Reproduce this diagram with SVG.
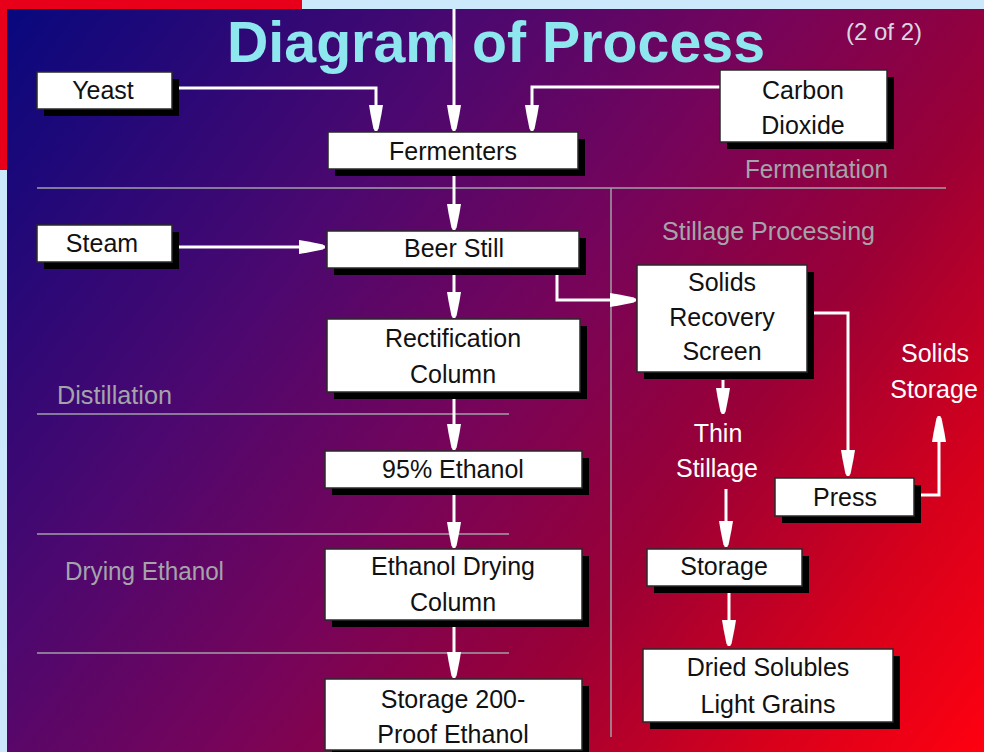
<svg xmlns="http://www.w3.org/2000/svg" width="984" height="752" viewBox="0 0 984 752">
<defs>
<linearGradient id="bg" gradientUnits="userSpaceOnUse" x1="7" y1="9" x2="984" y2="752">
<stop offset="0" stop-color="#08087e"/>
<stop offset="0.3" stop-color="#4a0870"/>
<stop offset="0.5" stop-color="#76045a"/>
<stop offset="0.68" stop-color="#9a0036"/>
<stop offset="0.85" stop-color="#d6001c"/>
<stop offset="1" stop-color="#ff0010"/>
</linearGradient>
<marker id="ah" viewBox="-28 -8 30 16" refX="0" refY="0" markerWidth="30" markerHeight="16" markerUnits="userSpaceOnUse" orient="auto">
<path d="M-26,-7 L-17,-5.5 L-2,-2.5 L0,0 L-2,2.5 L-17,5.5 L-26,7 Z" fill="#ffffff"/>
</marker>
<style>
.box{fill:#ffffff;stroke:#2a2a2a;stroke-width:1.5}
.sh{fill:#000000}
.t{font-family:"Liberation Sans",Arial,sans-serif;font-size:25px;fill:#111111;text-anchor:middle}
.w{font-family:"Liberation Sans",Arial,sans-serif;font-size:25px;fill:#ffffff;text-anchor:middle}
.g{font-family:"Liberation Sans",Arial,sans-serif;font-size:25px;fill:#a4a4aa}
.sep{stroke:#a0a0a6;stroke-width:1.5;fill:none}
.c{stroke:#ffffff;stroke-width:3;fill:none;marker-end:url(#ah)}
.cn{stroke:#ffffff;stroke-width:3;fill:none}
</style>
</defs>
<rect x="0" y="0" width="984" height="752" fill="#cce9fb"/>
<rect x="0" y="0" width="302" height="170" fill="#e8001a"/>
<rect x="7" y="9" width="977" height="743" fill="url(#bg)"/>

<g id="title">
<text x="227" y="62" font-family="Liberation Sans,Arial,sans-serif" font-weight="bold" font-size="58" fill="#8ee6ee" textLength="538" lengthAdjust="spacingAndGlyphs">Diagram of Process</text>
<text x="846" y="40" font-family="Liberation Sans,Arial,sans-serif" font-size="24" fill="#d8d8e2" textLength="76" lengthAdjust="spacingAndGlyphs">(2 of 2)</text>
</g>

<g id="separators">
<line class="sep" x1="37" y1="188" x2="946" y2="188"/>
<line class="sep" x1="611" y1="188" x2="611" y2="737"/>
<line class="sep" x1="37" y1="414" x2="509" y2="414"/>
<line class="sep" x1="37" y1="534" x2="509" y2="534"/>
<line class="sep" x1="37" y1="653" x2="509" y2="653"/>
</g>

<g id="section-labels">
<text class="g" x="745" y="178" textLength="143" lengthAdjust="spacingAndGlyphs">Fermentation</text>
<text class="g" x="662" y="240" textLength="213" lengthAdjust="spacingAndGlyphs">Stillage Processing</text>
<text class="g" x="57" y="404" textLength="115" lengthAdjust="spacingAndGlyphs">Distillation</text>
<text class="g" x="65" y="580" textLength="159" lengthAdjust="spacingAndGlyphs">Drying Ethanol</text>
</g>

<g id="connectors">
<path class="c" d="M454,9 V131"/>
<path class="c" d="M172,88 H376 V131"/>
<path class="c" d="M720,87 H532 V131"/>
<path class="c" d="M454,170 V230"/>
<path class="c" d="M172,247 H325"/>
<path class="c" d="M454,268 V318"/>
<path class="c" d="M557,268 V300 H636"/>
<path class="c" d="M454,392 V450"/>
<path class="c" d="M454,488 V548"/>
<path class="c" d="M454,620 V678"/>
<path class="c" d="M723,380 V414"/>
<path class="c" d="M726,489 V547"/>
<path class="c" d="M729,586 V646"/>
<path class="c" d="M807,313 H848 V476"/>
<path class="c" d="M914,495 H939 V416"/>
</g>

<g id="yeast">
<rect class="sh" x="44" y="79" width="135" height="37"/>
<rect class="box" x="37" y="72" width="135" height="37"/>
<text class="t" x="103" y="99">Yeast</text>
</g>
<g id="carbon-dioxide">
<rect class="sh" x="727" y="77" width="167" height="72"/>
<rect class="box" x="720" y="70" width="167" height="72"/>
<text class="t" x="803" y="99">Carbon</text>
<text class="t" x="803" y="134">Dioxide</text>
</g>
<g id="fermenters">
<rect class="sh" x="335" y="139" width="250" height="37"/>
<rect class="box" x="328" y="132" width="250" height="37"/>
<text class="t" x="453" y="160">Fermenters</text>
</g>
<g id="steam">
<rect class="sh" x="44" y="232" width="135" height="37"/>
<rect class="box" x="37" y="225" width="135" height="37"/>
<text class="t" x="102" y="252">Steam</text>
</g>
<g id="beer-still">
<rect class="sh" x="334" y="238" width="252" height="37"/>
<rect class="box" x="327" y="231" width="252" height="37"/>
<text class="t" x="454" y="257">Beer Still</text>
</g>
<g id="rectification-column">
<rect class="sh" x="334" y="326" width="253" height="73"/>
<rect class="box" x="327" y="319" width="253" height="73"/>
<text class="t" x="453" y="347">Rectification</text>
<text class="t" x="453" y="383">Column</text>
</g>
<g id="ethanol-95">
<rect class="sh" x="332" y="458" width="257" height="37"/>
<rect class="box" x="325" y="451" width="257" height="37"/>
<text class="t" x="453" y="478">95% Ethanol</text>
</g>
<g id="ethanol-drying-column">
<rect class="sh" x="332" y="556" width="257" height="71"/>
<rect class="box" x="325" y="549" width="257" height="71"/>
<text class="t" x="453" y="575">Ethanol Drying</text>
<text class="t" x="453" y="611">Column</text>
</g>
<g id="storage-200-proof">
<rect class="sh" x="332" y="686" width="257" height="71"/>
<rect class="box" x="325" y="679" width="257" height="71"/>
<text class="t" x="453" y="708">Storage 200-</text>
<text class="t" x="453" y="743">Proof Ethanol</text>
</g>
<g id="solids-recovery-screen">
<rect class="sh" x="644" y="272" width="170" height="107"/>
<rect class="box" x="637" y="265" width="170" height="107"/>
<text class="t" x="722" y="291">Solids</text>
<text class="t" x="722" y="326">Recovery</text>
<text class="t" x="722" y="360">Screen</text>
</g>
<g id="thin-stillage">
<text class="w" x="718" y="442">Thin</text>
<text class="w" x="717" y="477">Stillage</text>
</g>
<g id="press">
<rect class="sh" x="782" y="485" width="139" height="38"/>
<rect class="box" x="775" y="478" width="139" height="38"/>
<text class="t" x="845" y="506">Press</text>
</g>
<g id="solids-storage">
<text class="w" x="935" y="362">Solids</text>
<text class="w" x="934" y="398">Storage</text>
</g>
<g id="storage">
<rect class="sh" x="654" y="556" width="155" height="37"/>
<rect class="box" x="647" y="549" width="155" height="37"/>
<text class="t" x="724" y="575">Storage</text>
</g>
<g id="dried-solubles">
<rect class="sh" x="650" y="656" width="250" height="73"/>
<rect class="box" x="643" y="649" width="250" height="73"/>
<text class="t" x="768" y="676">Dried Solubles</text>
<text class="t" x="768" y="713">Light Grains</text>
</g>
</svg>
